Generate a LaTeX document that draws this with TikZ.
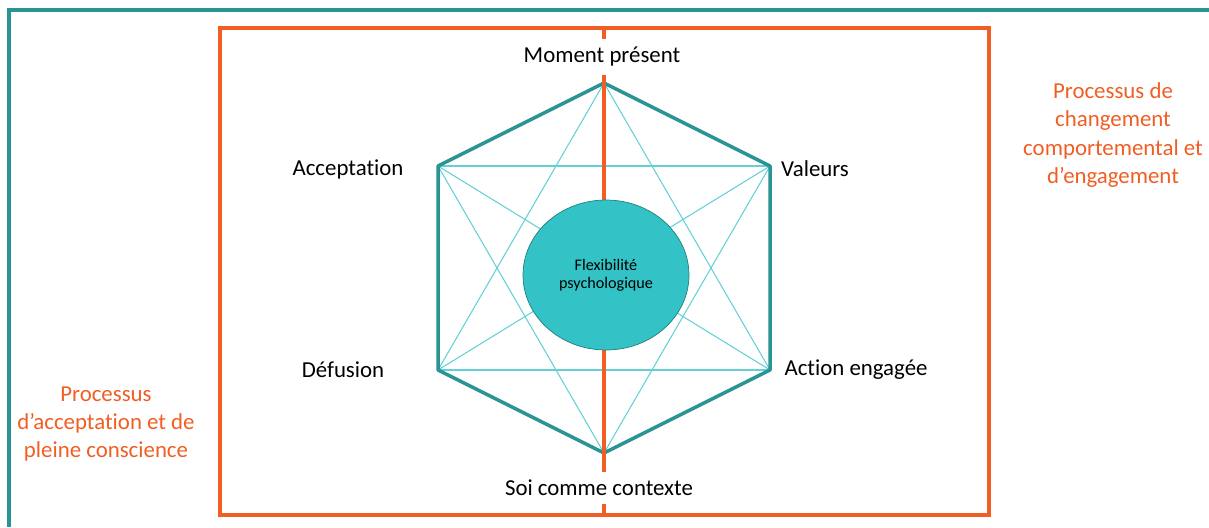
\documentclass[tikz,border=0pt]{standalone}
\usepackage{fontspec}
\setmainfont[Ligatures=NoCommon]{Carlito}
\usepackage{tikz}
\usetikzlibrary{shapes,arrows,positioning}
\definecolor{actteal}{RGB}{42,148,148}
\definecolor{actcyan}{RGB}{100,208,214}
\definecolor{actcore}{RGB}{51,194,197}
\definecolor{actorange}{RGB}{240,94,35}
\tikzset{
      outerframe/.style = {actteal, line width=2pt},
      procbox/.style = {actorange, line width=2pt},
      midaxis/.style = {actorange, line width=2pt},
      hexedge/.style = {actteal, line width=2pt, line join=round},
      diagedge/.style = {actcyan, line width=0.6pt},
      core/.style = {ellipse, draw=actteal!85!black, thin, fill=actcore, minimum width=3.32cm, minimum height=3cm, align=center, font=\fontsize{9.2}{10.4}\selectfont},
      lbl/.style = {font=\fontsize{13}{16}\selectfont},
      axlbl/.style = {lbl, fill=white, inner xsep=2pt, inner ysep=4.5pt},
      proc/.style = {text=actorange, align=center, font=\fontsize{13}{16}\selectfont},
    }

\begin{document}
\begin{tikzpicture}[x=0.02cm, y=-0.02cm
    ]
    \useasboundingbox (0,0) rectangle (1209,527);
    \coordinate (fbl) at (9,527);
    \coordinate (ftr) at (1209,10);
    \coordinate (boxtl) at (220,28);
    \coordinate (boxbr) at (989,515);
    \draw[outerframe] (fbl) |- (ftr);
    \draw[procbox] (boxtl) rectangle (boxbr);

    \coordinate (mp) at (604,83);
    \coordinate (ac) at (438,166);
    \coordinate (va) at (770,166);
    \coordinate (de) at (438,370);
    \coordinate (ae) at (770,370);
    \coordinate (sc) at (604,453);

    \path (ac) edge[diagedge] (va);
    \path (de) edge[diagedge] (ae);
    \path (mp) edge[diagedge] (de);
    \path (mp) edge[diagedge] (ae);
    \path (sc) edge[diagedge] (ac);
    \path (sc) edge[diagedge] (va);
    \path (ac) edge[diagedge] (ae);
    \path (va) edge[diagedge] (de);
    \path (mp) edge[diagedge] (sc);
    \draw[hexedge] (mp) -- (va) -- (ae) -- (sc) -- (de) -- (ac) -- cycle;

    \coordinate (axtop) at (604,28);
    \coordinate (axbot) at (604,515);
    \path (axtop) edge[midaxis] (axbot);

    \node[core] (flex) at (606,275) {Flexibilité\\psychologique};

    \node[axlbl] (mplbl) at (602,57) {Moment présent};
    \node[axlbl] (sclbl) at (599,488) {Soi comme contexte};
    \node[lbl] (aclbl) at (348,169) {Acceptation};
    \node[lbl] (valbl) at (815,169) {Valeurs};
    \node[lbl] (delbl) at (343,370) {Défusion};
    \node[lbl] (aelbl) at (856,370) {Action engagée};

    \node[proc] (left) at (106,424) {Processus\\d’acceptation et de\\pleine conscience};
    \node[proc] (right) at (1113,135) {Processus de\\changement\\comportemental et\\d’engagement};
\end{tikzpicture}
\end{document}
